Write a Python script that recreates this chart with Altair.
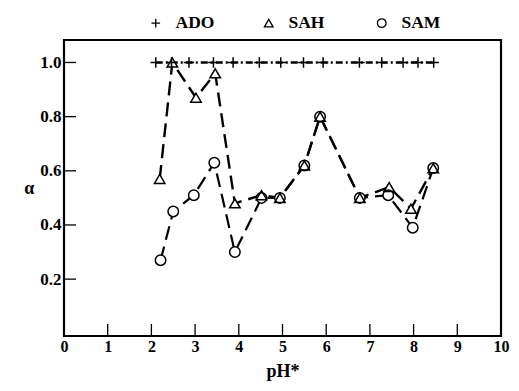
import altair as alt
import pandas as pd

# ---- data ----
ado_ph = [2.10, 2.46, 2.86, 3.42, 3.87, 4.47, 4.96, 5.48, 5.93, 6.76, 7.27, 7.76, 8.10, 8.46]
ado_alpha = [1.0, 1.0, 1.0, 1.0, 1.0, 1.0, 1.0, 1.0, 1.0, 1.0, 1.0, 1.0, 1.0, 1.0]

sah_ph = [2.19, 2.48, 3.02, 3.46, 3.91, 4.52, 4.94, 5.50, 5.86, 6.77, 7.44, 7.94, 8.45]
sah_alpha = [0.57, 1.00, 0.87, 0.96, 0.48, 0.51, 0.50, 0.62, 0.80, 0.50, 0.54, 0.46, 0.61]

sam_ph = [2.21, 2.50, 2.97, 3.44, 3.91, 4.52, 4.94, 5.50, 5.86, 6.77, 7.42, 7.98, 8.45]
sam_alpha = [0.27, 0.45, 0.51, 0.63, 0.30, 0.50, 0.50, 0.62, 0.80, 0.50, 0.51, 0.39, 0.61]

series_names = ["ADO", "SAH", "SAM"]
x_ticks = [0, 1, 2, 3, 4, 5, 6, 7, 8, 9, 10]
y_ticks = [0.2, 0.4, 0.6, 0.8, 1.0]

rows = []
for name, xs, ys in [("ADO", ado_ph, ado_alpha), ("SAH", sah_ph, sah_alpha), ("SAM", sam_ph, sam_alpha)]:
    for i, (x, y) in enumerate(zip(xs, ys)):
        rows.append({"series": name, "line_series": name + " line", "knock_series": name + " bg",
                     "ph": x, "alpha": y, "order": i})
df = pd.DataFrame(rows)

FONT = "Liberation Serif"
W, H = 437, 296

xscale = alt.Scale(domain=[0, 10], nice=False, zero=False)
yscale = alt.Scale(domain=[-0.01, 1.083], nice=False, zero=False)

line_names = [n + " line" for n in series_names]
knock_names = [n + " bg" for n in series_names]
plus_path = "M-1,0L1,0M0,-1L0,1"
shape_scale = alt.Scale(domain=series_names, range=[plus_path, "triangle-up", "circle"])
knock_shape_scale = alt.Scale(domain=knock_names, range=[plus_path, "triangle-up", "circle"])
dash_scale = alt.Scale(domain=line_names, range=[[7, 3, 2, 3], [14, 7], [14, 7]])
width_scale = alt.Scale(domain=line_names, range=[2.6, 2.2, 2.2])

x_enc = alt.X("ph:Q", scale=xscale,
              axis=alt.Axis(values=x_ticks, title="pH*", ticks=False, domain=False,
                            grid=False, labelPadding=2, format="d", labelFlush=False))
y_enc = alt.Y("alpha:Q", scale=yscale,
              axis=alt.Axis(values=y_ticks, title="α", ticks=False, domain=False,
                            grid=False, labelPadding=3, format=".1f",
                            titleAngle=0, titleAlign="right", titleBaseline="middle",
                            titlePadding=6))

legend = alt.Legend(
    title=None, orient="none", legendX=83, legendY=-26, direction="horizontal",
    labelFont=FONT, labelFontSize=17.5, labelFontWeight="bold", labelColor="black",
    symbolStrokeColor="black", symbolStrokeWidth=1.3, symbolFillColor="white",
    symbolSize=75, labelOffset=11, columnPadding=45, gridAlign="all",
)

lines = alt.Chart(df).mark_line(color="black").encode(
    x=x_enc,
    y=y_enc,
    detail="line_series:N",
    order="order:Q",
    strokeDash=alt.StrokeDash("line_series:N", scale=dash_scale, legend=None),
    strokeWidth=alt.StrokeWidth("line_series:N", scale=width_scale, legend=None),
)

knock = alt.Chart(df).mark_point(filled=True, fill="white", strokeOpacity=0, opacity=1, size=100).encode(
    x=alt.X("ph:Q", scale=xscale),
    y=alt.Y("alpha:Q", scale=yscale),
    shape=alt.Shape("knock_series:N", scale=knock_shape_scale, legend=None),
)

outlines = alt.Chart(df).mark_point(filled=False, color="black", strokeWidth=1.5, opacity=1, size=110).encode(
    x=alt.X("ph:Q", scale=xscale),
    y=alt.Y("alpha:Q", scale=yscale),
    shape=alt.Shape("series:N", scale=shape_scale, legend=legend),
)

ytick_df = pd.DataFrame({"alpha": y_ticks})
ytick_rules = alt.Chart(ytick_df).mark_rule(color="black", strokeWidth=1.3).encode(
    y=alt.Y("alpha:Q", scale=yscale),
    x=alt.value(0), x2=alt.value(12),
)
xtick_df = pd.DataFrame({"ph": x_ticks[1:-1]})
xtick_rules = alt.Chart(xtick_df).mark_rule(color="black", strokeWidth=1.3).encode(
    x=alt.X("ph:Q", scale=xscale),
    y=alt.value(H), y2=alt.value(H - 12),
)

chart = alt.layer(lines, knock, outlines, ytick_rules, xtick_rules).resolve_scale(
    shape="independent"
).properties(
    width=W, height=H,
    autosize=alt.AutoSizeParams(type="none"),
    padding={"left": 56, "top": 32, "right": 10, "bottom": 47},
).configure_view(
    stroke="black", strokeWidth=2.2
).configure_axis(
    labelFont=FONT, labelFontSize=17, labelFontWeight="bold", labelColor="black",
    titleFont=FONT, titleFontSize=18, titleFontWeight="bold", titleColor="black",
).configure_axisX(titlePadding=8, labelFontSize=16)

chart.save("out.html", embed_options={"renderer": "svg", "actions": False})
